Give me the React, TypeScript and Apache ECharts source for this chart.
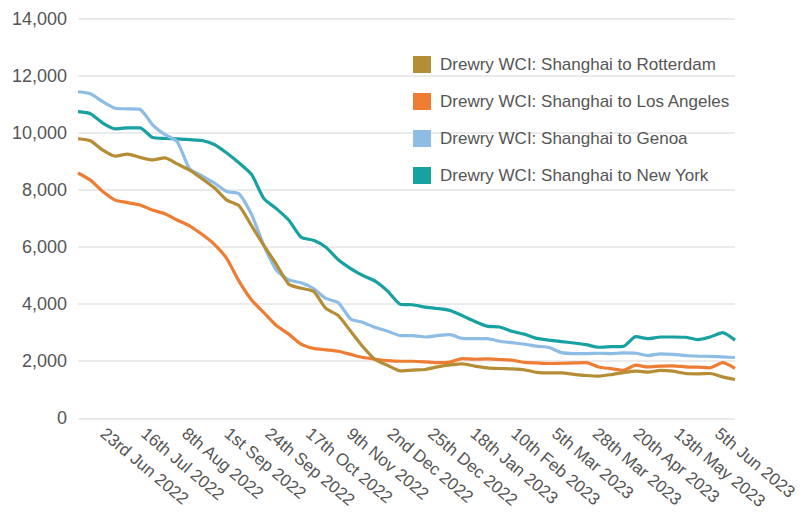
import React, { useEffect, useRef } from "react";
import * as echarts from "echarts";

const startDate = "2022-06-09";
const weekCount = 54;
const seriesNames = [
  "Drewry WCI: Shanghai to Rotterdam",
  "Drewry WCI: Shanghai to Los Angeles",
  "Drewry WCI: Shanghai to Genoa",
  "Drewry WCI: Shanghai to New York",
];
const colors = ["#B58D34", "#EE7D33", "#8DBDE4", "#17A1A1"];

const rotterdam = [
  9800, 9730, 9400, 9190, 9260, 9150, 9060, 9130, 8920, 8700,
  8400, 8080, 7650, 7450, 6750, 6050, 5400, 4700, 4560, 4450,
  3850, 3600, 3050, 2500, 2050, 1850, 1660, 1690, 1710, 1800,
  1870, 1910, 1830, 1770, 1745, 1730, 1700, 1610, 1590, 1590,
  1540, 1500, 1480, 1530, 1600, 1650, 1620, 1680, 1650, 1570,
  1560, 1570, 1450, 1360,
];
const losAngeles = [
  8600, 8350, 7950, 7650, 7560, 7480, 7300, 7170, 6950, 6750,
  6450, 6100, 5600, 4800, 4150, 3700, 3250, 2950, 2600, 2450,
  2400, 2350, 2240, 2130, 2070, 2020, 2000, 2000, 1980, 1950,
  1970, 2090, 2070, 2080, 2060, 2040, 1960, 1940, 1920, 1930,
  1940, 1950, 1800, 1740, 1680, 1860, 1800, 1830, 1840, 1800,
  1790, 1770, 1950, 1750,
];
const genoa = [
  11450, 11380, 11100, 10870, 10850, 10830, 10300, 9950, 9700, 8750,
  8500, 8250, 7950, 7870, 7150, 6050, 5200, 4850, 4750, 4550,
  4200, 4050, 3480, 3360, 3180, 3050, 2900, 2900, 2850, 2900,
  2930, 2800, 2790, 2790, 2700, 2650, 2600, 2530, 2480, 2300,
  2270, 2270, 2280, 2270, 2290, 2280, 2200, 2260, 2240, 2200,
  2180, 2170, 2150, 2130,
];
const newYork = [
  10750, 10680, 10350, 10150, 10180, 10180, 9850, 9810, 9800, 9770,
  9740, 9600, 9300, 8950, 8550, 7700, 7350, 6950, 6350, 6240,
  6000, 5560, 5250, 5000, 4800, 4450, 4000, 3980, 3900, 3850,
  3780, 3600, 3400, 3230, 3200, 3050, 2950, 2800, 2740, 2690,
  2640, 2580, 2490, 2510, 2520, 2860, 2790, 2850, 2850, 2840,
  2760, 2850, 3000, 2740,
];
const tickDates = [
  "2022-06-23", "2022-07-16", "2022-08-08", "2022-09-01", "2022-09-24",
  "2022-10-17", "2022-11-09", "2022-12-02", "2022-12-25", "2023-01-18",
  "2023-02-10", "2023-03-05", "2023-03-28", "2023-04-20", "2023-05-13",
  "2023-06-05",
];
const yTicks = [0, 2000, 4000, 6000, 8000, 10000, 12000, 14000];

const DAY = 86400000;
const months = ["Jan", "Feb", "Mar", "Apr", "May", "Jun", "Jul", "Aug", "Sep", "Oct", "Nov", "Dec"];
function parse(d: string) {
  const [y, m, dd] = d.split("-").map(Number);
  return Date.UTC(y, m - 1, dd);
}
function ordinal(n: number) {
  if (n % 100 >= 11 && n % 100 <= 13) return n + "th";
  if (n % 10 === 1) return n + "st";
  if (n % 10 === 2) return n + "nd";
  if (n % 10 === 3) return n + "rd";
  return n + "th";
}

export default function App() {
  const ref = useRef<HTMLDivElement>(null);
  useEffect(() => {
    if (!ref.current) return;
    const chart = echarts.init(ref.current, undefined, { renderer: "svg" });
    const t0 = parse(startDate);
    // x values: days since the first data date
    const days = Array.from({ length: weekCount }, (_, i) => i * 7);
    const all = [rotterdam, losAngeles, genoa, newYork];
    const labelVals = tickDates.map((d) => Math.round((parse(d) - t0) / DAY));
    const fmt = (v: number) => {
      const d = new Date(t0 + Math.round(v) * DAY);
      return ordinal(d.getUTCDate()) + " " + months[d.getUTCMonth()] + " " + d.getUTCFullYear();
    };
    chart.setOption({
      animation: false,
      grid: { left: 78, right: 68, top: 19, bottom: 93, containLabel: false },
      legend: {
        orient: "vertical",
        left: 408,
        top: 51,
        icon: "rect",
        itemWidth: 18,
        itemHeight: 17,
        itemGap: 20,
        data: seriesNames,
        textStyle: {
          fontFamily: "Liberation Sans, Arial, sans-serif",
          fontSize: 17,
          color: "#555",
          lineHeight: 17,
          padding: [0, 0, 0, 4],
        },
      },
      xAxis: {
        type: "value",
        min: days[0],
        max: days[days.length - 1],
        axisLine: { show: false },
        axisTick: { show: false },
        splitLine: { show: false },
        axisLabel: {
          customValues: labelVals,
          rotate: -40,
          margin: 13,
          fontSize: 17,
          color: "#555",
          fontFamily: "Liberation Sans, Arial, sans-serif",
          formatter: (v: number) => fmt(v),
          hideOverlap: false,
        },
      },
      yAxis: {
        type: "value",
        min: yTicks[0],
        max: yTicks[yTicks.length - 1],
        interval: 2000,
        axisLine: { show: false },
        axisTick: { show: false },
        splitLine: { lineStyle: { color: "#e4e4e4", width: 1.5 } },
        axisLabel: {
          margin: 11,
          fontSize: 18,
          color: "#555",
          fontFamily: "Liberation Sans, Arial, sans-serif",
          formatter: (v: number) => v.toLocaleString("en-US"),
        },
      },
      series: all.map((vals, k) => ({
        name: seriesNames[k],
        type: "line",
        data: vals.map((v, i) => [days[i], v]),
        showSymbol: false,
        smooth: 0.2,
        color: colors[k],
        lineStyle: { width: 3.2, color: colors[k] },
        z: 4 - k,
      })),
    });
    return () => chart.dispose();
  }, []);
  return <div ref={ref} style={{ width: 803, height: 512, position: "absolute", left: 0, top: 0, background: "#fff" }} />;
}
